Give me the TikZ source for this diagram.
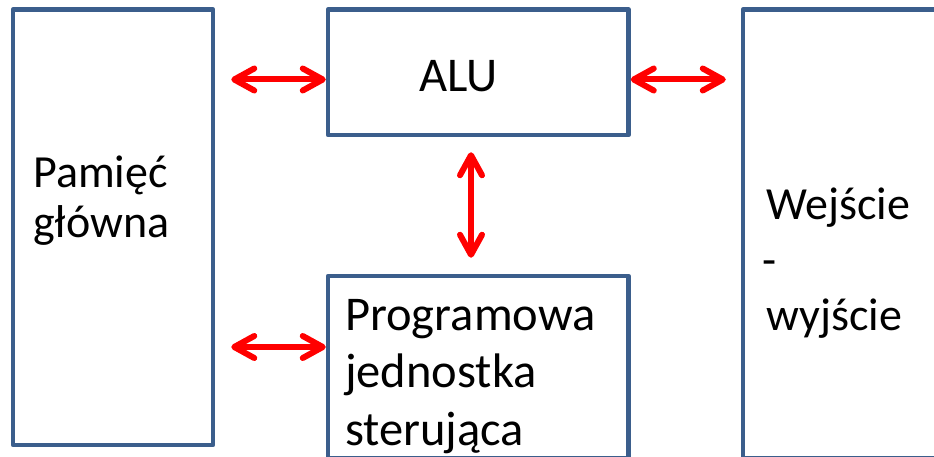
\documentclass[tikz,border=0pt]{standalone}
\usepackage{fontspec}
\setmainfont{Carlito}
\usetikzlibrary{arrows.meta}
\definecolor{boxblue}{RGB}{59,94,140}
\definecolor{linkred}{RGB}{255,0,0}
\begin{document}
\begin{tikzpicture}[x=1pt,y=-1pt,
  unit/.style={draw=boxblue, line width=4.5pt, line join=round, inner sep=0pt,
    minimum width=#1, rectangle},
  link/.style={draw=linkred, line width=6pt,
    {Straight Barb[length=20pt,width=22pt,round]}-{Straight Barb[length=20pt,width=22pt,round]}},
  bigtxt/.style={inner sep=0pt, anchor=base west, font=\fontsize{48.5pt}{56pt}\selectfont},
  smalltxt/.style={inner sep=0pt, anchor=base west, font=\fontsize{46pt}{50pt}\selectfont}]
\clip (0,0) rectangle (934,457);

% units of the machine
\node[unit=200pt, minimum height=435.5pt] (mem) at (113,227.25) {};
\node[unit=300.5pt, minimum height=125.5pt] (alu) at (478.25,72.25) {};
\node[unit=300.5pt, minimum height=182pt] (pcu) at (478.25,367) {};
\node[unit=257pt, minimum height=448.5pt] (io) at (871.5,233.75) {};

% labels
\node[smalltxt] (mem1) at (33,187.5) {Pamięć};
\node[smalltxt] (mem2) at (33,237) {główna};
\node[bigtxt] (alu1) at (419,91.7) {ALU};
\node[bigtxt] (pcu1) at (345,330.7) {Programowa};
\node[bigtxt] (pcu2) at (345,387.7) {jednostka};
\node[bigtxt] (pcu3) at (345,445) {sterująca};
\node[smalltxt] (io1) at (766,219.3) {Wejście};
\node[smalltxt] (io2) at (762,275) {-};
\node[smalltxt] (io3) at (766,330) {wyjście};

% data paths
\coordinate (ytop) at (0,79.5);
\coordinate (ybot) at (0,347);
\coordinate (xmid) at (471,0);
\draw[link, shorten <=16pt] (mem.east |- ytop) -- (alu.west |- ytop);
\draw[link, shorten >=15pt] (alu.east |- ytop) -- (io.west |- ytop);
\draw[link, shorten <=16pt] (mem.east |- ybot) -- (pcu.west |- ybot);
\draw[link, shorten <=15pt, shorten >=16pt] (xmid |- alu.south) -- (xmid |- pcu.north);
\end{tikzpicture}
\end{document}
